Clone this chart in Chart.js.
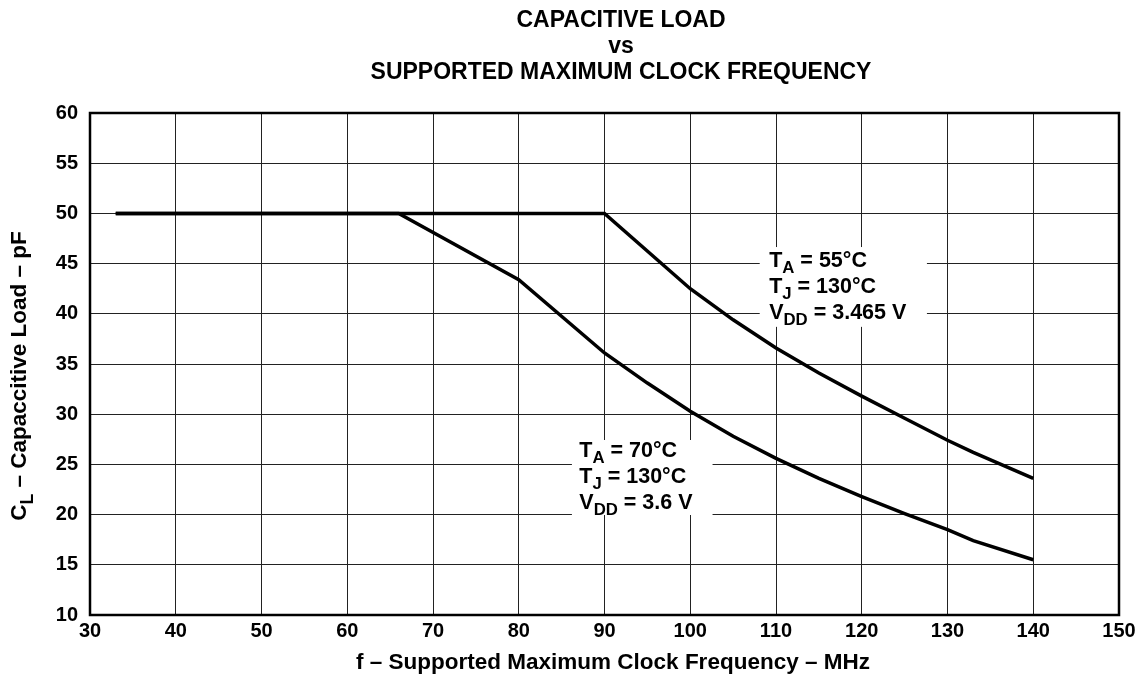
<!DOCTYPE html>
<html>
<head>
<meta charset="utf-8">
<script src="https://cdn.jsdelivr.net/npm/chart.js@4.4.0/dist/chart.umd.min.js"></script>
<style>
  body { margin: 0; background: #fff; }
  #wrap { width: 1141px; height: 674px; }
</style>
</head>
<body>
<div id="wrap"><canvas id="chartID"></canvas></div>
<script>
// Values: frequency in MHz, load in pF
const freq70 = [33, 66, 80, 90, 95, 100, 105, 110, 115, 120, 125, 130, 133, 140]
const load70 = [50, 50, 43.4, 36.1, 33.1, 30.3, 27.8, 25.6, 23.6, 21.8, 20.1, 18.5, 17.4, 15.5]
const freq55 = [33, 66, 90, 100, 105, 110, 115, 120, 125, 130, 133, 140]
const load55 = [50, 50, 50, 42.5, 39.4, 36.6, 34.1, 31.8, 29.6, 27.4, 26.2, 23.6]

const xTicks = [30, 40, 50, 60, 70, 80, 90, 100, 110, 120, 130, 140, 150]
const yTicks = [10, 15, 20, 25, 30, 35, 40, 45, 50, 55, 60]

const titleLines = ['CAPACITIVE LOAD', 'vs', 'SUPPORTED MAXIMUM CLOCK FREQUENCY']
const xTitle = [['f – Supported Maximum Clock Frequency – MHz']]
const yTitle = [['C'], ['L', 1], [' – Capaccitive Load – pF']]
const note55 = [
	[['T'], ['A', 1], [' = 55°C']],
	[['T'], ['J', 1], [' = 130°C']],
	[['V'], ['DD', 1], [' = 3.465 V']],
]
const note70 = [
	[['T'], ['A', 1], [' = 70°C']],
	[['T'], ['J', 1], [' = 130°C']],
	[['V'], ['DD', 1], [' = 3.6 V']],
]

const FONT = 'Arial, "Liberation Sans", Helvetica, sans-serif'

// text pieces flagged 1 are subscripts
function richWidth(ctx, parts, size) {
	let w = 0
	parts.forEach(function(p) {
		ctx.font = 'bold ' + (p[1] ? size * 0.78 : size) + 'px ' + FONT
		w += ctx.measureText(p[0]).width
	})
	return w
}
function drawRich(ctx, parts, x, y, size) {
	parts.forEach(function(p) {
		const s = p[1] ? size * 0.78 : size
		ctx.font = 'bold ' + s + 'px ' + FONT
		ctx.fillText(p[0], x, y + (p[1] ? size * 0.3 : 0))
		x += ctx.measureText(p[0]).width
	})
}

// note boxes in data units: box corners, text start, first baseline
const noteBoxes = [
	{ lines: note55, x0: 108.1, x1: 127.6, y0: 46.65, y1: 38.7, tx: 109.2, ty: 44.66 },
	{ lines: note70, x0: 86.2, x1: 102.6, y0: 27.43, y1: 19.96, tx: 87.06, ty: 25.77 },
]

const textPlugin = {
	id: 'textPlugin',
	beforeDatasetsDraw: function(chart) {
		const ctx = chart.ctx
		const xs = chart.scales.x
		const ys = chart.scales.y
		ctx.save()
		noteBoxes.forEach(function(n) {
			const l = xs.getPixelForValue(n.x0)
			const r = xs.getPixelForValue(n.x1)
			const t = ys.getPixelForValue(n.y0)
			const b = ys.getPixelForValue(n.y1)
			ctx.fillStyle = '#fff'
			ctx.fillRect(l, t, r - l, b - t)
			ctx.fillStyle = '#000'
			ctx.textBaseline = 'alphabetic'
			ctx.textAlign = 'left'
			const tx = xs.getPixelForValue(n.tx)
			const ty = ys.getPixelForValue(n.ty)
			n.lines.forEach(function(line, i) {
				drawRich(ctx, line, tx, ty + i * 26, 21.5)
			})
		})
		ctx.restore()
	},
	afterDraw: function(chart) {
		const ctx = chart.ctx
		const a = chart.chartArea
		ctx.save()
		// frame
		ctx.strokeStyle = '#000'
		ctx.lineWidth = 2.5
		ctx.strokeRect(a.left, a.top, a.right - a.left, a.bottom - a.top)
		ctx.fillStyle = '#000'
		ctx.textBaseline = 'alphabetic'
		ctx.textAlign = 'center'
		ctx.font = 'bold 23px ' + FONT
		titleLines.forEach(function(s, i) {
			ctx.fillText(s, 621, 27 + i * 26)
		})
		ctx.textAlign = 'left'
		const xw = richWidth(ctx, xTitle, 22.5)
		drawRich(ctx, xTitle, 613 - xw / 2, 669, 22.5)
		ctx.translate(26, (a.top + a.bottom) / 2 + 12)
		ctx.rotate(-Math.PI / 2)
		const yw = richWidth(ctx, yTitle, 22.5)
		drawRich(ctx, yTitle, -yw / 2, 0, 22.5)
		ctx.restore()
	},
}

window.onload = function() {
	let chartCtx = document.getElementById('chartID').getContext('2d')
	window.lineChart = new Chart(chartCtx, {
		type: 'line',
		data: {
			datasets: [
				{
					label: 'TA = 70°C',
					data: freq70.map(function(f, i) { return { x: f, y: load70[i] } }),
					borderColor: '#000',
					borderWidth: 3.5,
					pointRadius: 0,
					fill: false,
					tension: 0,
				},
				{
					label: 'TA = 55°C',
					data: freq55.map(function(f, i) { return { x: f, y: load55[i] } }),
					borderColor: '#000',
					borderWidth: 3.5,
					pointRadius: 0,
					fill: false,
					tension: 0,
				},
			],
		},
		options: {
			responsive: true,
			maintainAspectRatio: false,
			animation: false,
			layout: { padding: { left: 0, right: 22, top: 113, bottom: 0 } },
			plugins: {
				legend: { display: false },
				title: { display: false },
				tooltip: { enabled: false },
			},
			scales: {
				x: {
					type: 'linear',
					min: 30,
					max: 150,
					afterBuildTicks: function(s) { s.ticks = xTicks.map(function(v) { return { value: v } }) },
					afterFit: function(s) { s.height = 674 - 615 },
					grid: { color: '#222', lineWidth: 1, drawTicks: false },
					border: { display: false },
					ticks: {
						color: '#000',
						padding: 4,
						maxRotation: 0,
						autoSkip: false,
						font: { family: FONT, size: 20, weight: 'bold' },
					},
				},
				y: {
					type: 'linear',
					min: 10,
					max: 60,
					afterBuildTicks: function(s) { s.ticks = yTicks.map(function(v) { return { value: v } }) },
					afterFit: function(s) { s.width = 90 },
					grid: { color: '#222', lineWidth: 1, drawTicks: false },
					border: { display: false },
					ticks: {
						color: '#000',
						padding: 12,
						autoSkip: false,
						font: { family: FONT, size: 20, weight: 'bold' },
					},
				},
			},
		},
		plugins: [textPlugin],
	})
}
</script>
</body>
</html>
